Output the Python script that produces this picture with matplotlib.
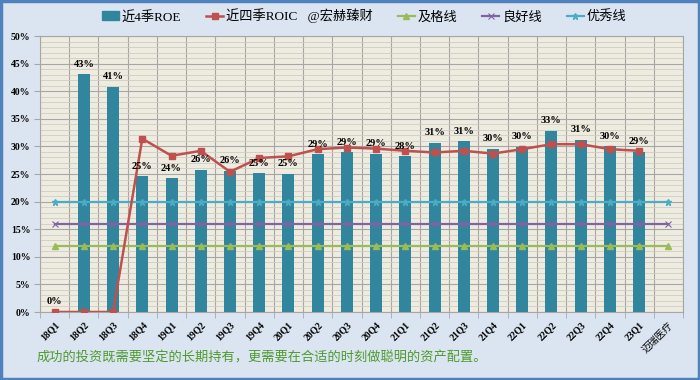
import matplotlib.pyplot as plt
import numpy as np
from matplotlib.lines import Line2D
from matplotlib.patches import Rectangle

plt.rcParams['font.family'] = ['Liberation Serif', 'Noto Sans CJK SC', 'DejaVu Sans']

# data
quarters = ["18Q1", "18Q2", "18Q3", "18Q4", "19Q1", "19Q2", "19Q3", "19Q4",
            "20Q1", "20Q2", "20Q3", "20Q4", "21Q1", "21Q2", "21Q3", "21Q4",
            "22Q1", "22Q2", "22Q3", "22Q4", "23Q1"]
company = "迈瑞医疗"
roe = [0.0, 43.1, 40.8, 24.6, 24.2, 25.8, 25.6, 25.1, 25.0, 28.6, 28.9,
       28.7, 28.2, 30.7, 30.9, 29.6, 29.9, 32.8, 31.2, 30.0, 29.0]
roic = [0.0, 0.0, 0.0, 31.4, 28.3, 29.2, 25.4, 27.9, 28.2, 29.5, 29.8,
        29.6, 29.2, 28.9, 29.2, 28.7, 29.5, 30.4, 30.4, 29.5, 29.2]
pass_line = 12
good_line = 16
excellent_line = 20
footer = "成功的投资既需要坚定的长期持有，更需要在合适的时刻做聪明的资产配置。"

# colours
bg_fig = "#dbe5f1"
bg_ax = "#eeece1"
c_bar = "#31859c"
c_roic = "#c0504d"
c_pass = "#9bbb59"
c_good = "#8064a2"
c_exc = "#4bacc6"

labels = quarters + [company]
n = len(labels)
x = np.arange(n)
xq = np.arange(len(quarters))

fig = plt.figure(figsize=(7, 3.8), dpi=100, facecolor=bg_fig)
ax = fig.add_axes([40 / 700, 1 - 312 / 380, 643 / 700, 276 / 380])
ax.set_facecolor(bg_ax)

# grid
ax.set_yticks(np.arange(0, 51, 5))
ax.set_yticks(np.arange(0, 51, 1), minor=True)
ax.set_xticks(x)
ax.set_xticks(np.arange(n + 1) - 0.5, minor=True)
ax.grid(which="minor", axis="y", color="#d0cdc0", lw=0.6)
ax.grid(which="major", axis="y", color="#a6a6a6", lw=0.8)
ax.grid(which="minor", axis="x", color="#a6a6a6", lw=0.8)
ax.set_axisbelow(True)

ax.bar(xq, roe, width=0.41, color=c_bar, zorder=3)

lw = 1.6
ax.plot(x, [pass_line] * n, color=c_pass, lw=lw, marker="^", ms=4, zorder=4)
ax.plot(x, [good_line] * n, color=c_good, lw=lw, marker="x", ms=4, mew=0.8, zorder=4)
ax.plot(x, [excellent_line] * n, color=c_exc, lw=lw, marker="*", ms=5, zorder=4)
ax.plot(xq, roic, color=c_roic, lw=1.8, marker="s", ms=5, zorder=5)

for xi, v in zip(xq, roe):
    ax.annotate(f"{v:.0f}%", (xi, v), xytext=(0, 4), textcoords="offset points",
                ha="center", va="bottom", fontsize=7.5, fontweight="bold", zorder=6)

ax.set_xlim(-0.5, n - 0.5)
ax.set_ylim(0, 50)
ax.set_yticklabels([f"{v}%" for v in range(0, 51, 5)], fontsize=7, fontweight="bold")
ax.set_xticklabels(labels, rotation=45, ha="right", rotation_mode="anchor",
                   fontsize=7, fontweight="bold")
ax.get_xticklabels()[-1].set_fontweight("normal")
ax.tick_params(axis="x", which="major", length=0, pad=6)
ax.tick_params(axis="x", which="minor", length=4, color="#a6a6a6")
ax.tick_params(axis="y", which="major", length=4, color="#a6a6a6", pad=3)
ax.tick_params(axis="y", which="minor", length=0)
for s in ax.spines.values():
    s.set_color("#a6a6a6")
    s.set_linewidth(0.8)

handles = [
    Rectangle((0, 0), 1, 1, color=c_bar),
    Line2D([], [], color=c_roic, lw=1.8, marker="s", ms=4),
    Line2D([], [], color=c_pass, lw=1.6, marker="^", ms=4),
    Line2D([], [], color=c_good, lw=1.6, marker="x", ms=4, mew=0.8),
    Line2D([], [], color=c_exc, lw=1.6, marker="*", ms=5),
]
names = ["近4季ROE", "近四季ROIC   @宏赫臻财", "及格线", "良好线", "优秀线"]
fig.legend(handles, names, loc="center", bbox_to_anchor=(0.52, 1 - 16 / 380), ncol=5,
           frameon=False, fontsize=9.5, handlelength=1.3, handletextpad=0.2,
           columnspacing=1.9)

fig.text(37 / 700, 1 - 358 / 380, footer, color="#4e9a2e", fontsize=9.5, va="center")

# blue frame
fig.patches.append(Rectangle((0.0015, 0.003), 0.997, 0.994, transform=fig.transFigure,
                             fill=False, ec="#4f81bd", lw=2.5))

fig.savefig("out.png", dpi=100, facecolor=bg_fig)
